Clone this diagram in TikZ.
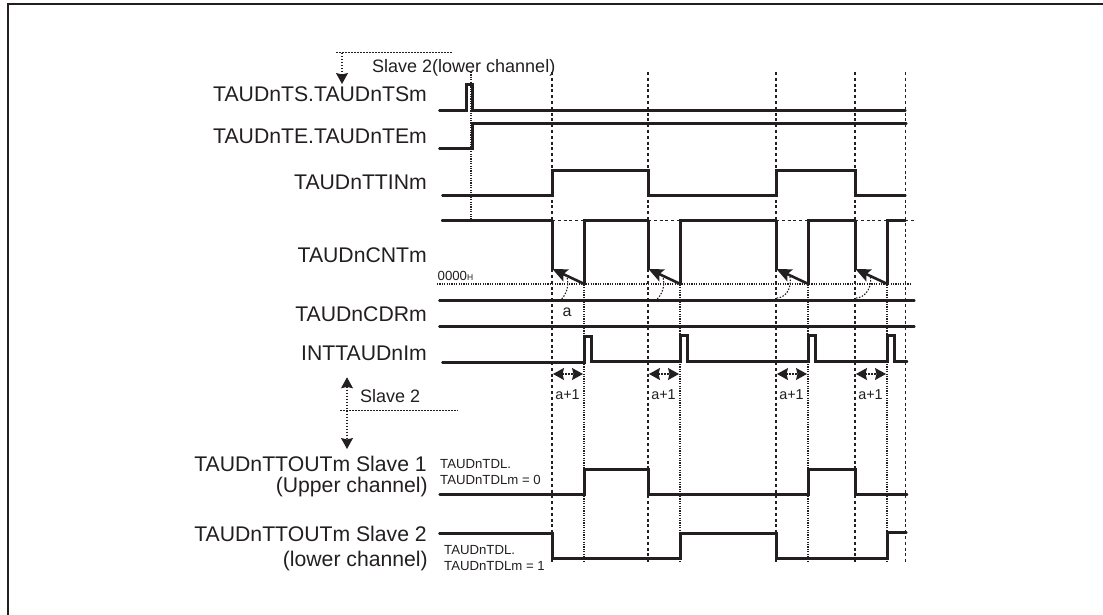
\documentclass[tikz,border=0pt]{standalone}
\usepackage{fontspec}
\setmainfont{Liberation Sans}
\usetikzlibrary{arrows.meta}
\definecolor{meupreto}{RGB}{35, 31, 32}

\begin{document}
\begin{tikzpicture}[
                x=1pt, y=-1pt,
                color=meupreto,
                signal/.style={line width=2.6pt, line cap=round, line join=miter, xshift=0.4pt},
                guidedash/.style={line width=1.8pt, dash pattern=on 3pt off 2.8pt},
                guidedot/.style={line width=1.2pt, dash pattern=on 1.2pt off 1.2pt},
                hint/.style={line width=1.1pt, dash pattern=on 1.5pt off 1.5pt},
                siglabel/.style={anchor=base east, inner sep=0pt, font=\fontsize{21.2}{24}\selectfont},
                note/.style={anchor=base west, inner sep=0pt, font=\fontsize{18}{21}\selectfont},
                tiny/.style={anchor=base west, inner sep=0pt, font=\fontsize{13.2}{15}\selectfont},
                bighead/.tip={Stealth[length=11pt, width=12pt, inset=1.5pt]}
            ]
                \useasboundingbox (0,0) rectangle (1103,615);
                % Moldura
                \draw[line width=1.8pt] (8,615) -- (8,4) -- (1103,4);

                % Guias verticais
                \foreach \xg in {552,648,776,855,905.5}
                    \draw[guidedash] (\xg,72) -- (\xg,563);
                \foreach \xg in {584,680,808,887}
                    \draw[guidedot] (\xg,220) -- (\xg,563);
                \draw[guidedot] (471,72) -- (471,219);
                \draw[guidedot] (437,284) -- (912,284);
                \foreach \xa/\xb in {552/584,648/680,776/808,855/887}
                    \draw[guidedash, line width=1.2pt] (\xa,220.3) -- (\xb,220.3);
                \draw[guidedash, line width=1.2pt] (905,220.3) -- (916,220.3);

                % Sinais
                \draw[signal] (439,110.7) -| (466,84.4) -| (472,110.7) -- (905,110.7);
                \draw[signal] (439,148.7) -| (472,123.4) -- (906,123.4);
                \draw[signal] (442,195.7) -| (552,170.4) -| (648,195.7) -| (776,170.4) -| (855,195.7) -- (905,195.7);
                \draw[signal] (441.7,220.3) -- (552,220.3) (584,220.3) -- (648,220.3) (680,220.3) -- (776,220.3) (808,220.3) -- (855,220.3) (887,220.3) -- (905,220.3);
                \foreach \xa/\xb in {552/584,648/680,776/808,855/887} {
                    \draw[signal, line cap=butt] (\xa,220.3) -- (\xa,269);
                    \draw[signal, line cap=butt, -{Stealth[length=15pt, width=13pt, inset=3pt]}] (\xb,284) -- (\xa,269);
                    \draw[signal, line cap=butt] (\xb,285) -- (\xb,219.2);
                }
                \draw[signal] (439,300.3) -- (914,300.3);
                \draw[signal] (439,326.4) -- (914,326.4);
                \draw[signal] (442,362.3) -| (584,336.4) -| (591,361.5) -| (680,335.5) -| (687,361.5) -| (808,335.5) -| (815,361.5) -| (887,335.5) -| (894,361.5) -- (906.7,361.5);
                \draw[signal] (439.3,494.7) -| (584,469.4) -| (648,494.7) -| (808,469.4) -| (855,494.7) -- (906.7,494.7);
                \draw[signal] (439,533.3) -| (552,558.3) -| (680,533.3) -| (776,558.3) -| (887,532.4) -- (906,532.4);

                % Curvas de a
                \draw[hint] (561.7,299) .. controls (567,293) and (569,285) .. (567,277);
                \draw[hint] (657.3,299) .. controls (663,293) and (665,285) .. (663,277);
                \draw[hint] (776.7,298) .. controls (785,298) and (792,289) .. (790,277);
                \draw[hint] (856,298) .. controls (864,298) and (872,289) .. (870.5,277);

                % Medidas a+1
                \foreach \xa/\xb in {552/584,648/680,776/808,855/887} {
                    \coordinate (dimleft\xa) at (\xa+1,374);
                    \coordinate (dimright\xa) at (\xb-1,374);
                    \draw[hint, bighead-bighead] (dimleft\xa) -- (dimright\xa);
                    \node[anchor=base, inner sep=0pt, font=\fontsize{14.4}{16}\selectfont] (aplus\xa) at (\xa/2+\xb/2-0.5,399) {a+1};
                }
                \node[anchor=base, inner sep=0pt, font=\fontsize{16}{18}\selectfont] (alabel) at (567,316.5) {a};

                % Setas Slave 2
                \coordinate (topstart) at (342,53);
                \coordinate (toptip) at (342,84);
                \draw[hint] (336,52.7) -- (453,52.7);
                \draw[hint, -bighead] (topstart) -- (toptip);
                \node[note] (topnote) at (372,72.7) {Slave 2(lower channel)};
                \coordinate (slaveup) at (347,377.3);
                \coordinate (slavedown) at (347,449);
                \draw[hint] (340,410.7) -- (458,410.7);
                \draw[hint, bighead-bighead] (slaveup) -- (slavedown);
                \node[note] (midnote) at (360,402.7) {Slave 2};

                % Rotulos
                \node[siglabel] (ts) at (427,101.7) {TAUDnTS.TAUDnTSm};
                \node[siglabel] (te) at (427,143.3) {TAUDnTE.TAUDnTEm};
                \node[siglabel] (ttin) at (427,189.3) {TAUDnTTINm};
                \node[siglabel] (cnt) at (427,262.3) {TAUDnCNTm};
                \node[siglabel] (cdr) at (427,321.3) {TAUDnCDRm};
                \node[siglabel] (intm) at (427,360.3) {INTTAUDnIm};
                \node[siglabel] (outa) at (427,471) {TAUDnTTOUTm Slave 1};
                \node[siglabel] (outab) at (428,492.7) {(Upper channel)};
                \node[siglabel] (outb) at (427,541) {TAUDnTTOUTm Slave 2};
                \node[siglabel] (outbb) at (428,566) {(lower channel)};

                \node[tiny] (zero) at (437.5,280.7) {0000{\fontsize{8.5}{9}\selectfont H}};
                \node[tiny] (tdla) at (440,468.3) {TAUDnTDL.};
                \node[tiny] (tdlb) at (440,484.3) {TAUDnTDLm = 0};
                \node[tiny] (tdlc) at (444,554) {TAUDnTDL.};
                \node[tiny] (tdld) at (444,570) {TAUDnTDLm = 1};
            \end{tikzpicture}
\end{document}
